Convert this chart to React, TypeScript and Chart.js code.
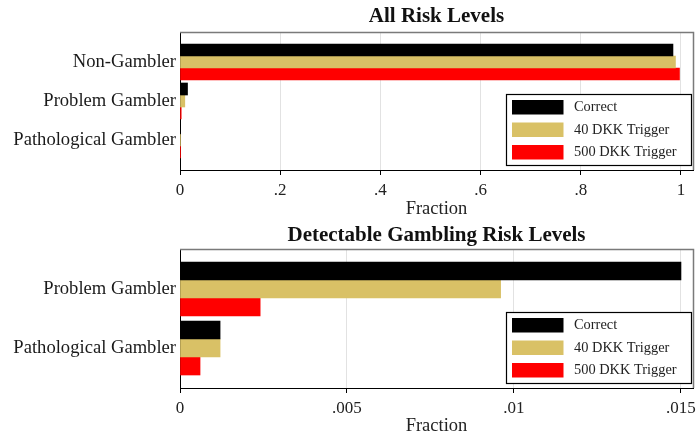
import React, { useEffect, useRef } from 'react';
import { Chart, registerables } from 'chart.js';

Chart.register(...registerables);

const FONT = '"Liberation Serif", "DejaVu Serif", serif';

const SERIES_LABELS = ['Correct', '40 DKK Trigger', '500 DKK Trigger'];
const SERIES_COLORS = ['#000000', '#d9c166', '#ff0000'];
const X_TITLE = 'Fraction';

const ALL_TITLE = 'All Risk Levels';
const ALL_CATEGORIES = ['Non-Gambler', 'Problem Gambler', 'Pathological Gambler'];
const ALL_CORRECT = [0.984, 0.015, 0.0012];
const ALL_DKK40 = [0.989, 0.0096, 0.0012];
const ALL_DKK500 = [0.997, 0.0024, 0.0006];
const ALL_TICKS = [0, 0.2, 0.4, 0.6, 0.8, 1];
const ALL_TICK_LABELS = ['0', '.2', '.4', '.6', '.8', '1'];
const ALL_MAX = 1.024;

const DET_TITLE = 'Detectable Gambling Risk Levels';
const DET_CATEGORIES = ['Problem Gambler', 'Pathological Gambler'];
const DET_CORRECT = [0.015, 0.0012];
const DET_DKK40 = [0.0096, 0.0012];
const DET_DKK500 = [0.0024, 0.0006];
const DET_TICKS = [0, 0.005, 0.01, 0.015];
const DET_TICK_LABELS = ['0', '.005', '.01', '.015'];
const DET_MAX = 0.01536;

type Spec = {
  title: string;
  categories: string[];
  series: number[][];
  ticks: number[];
  tickLabels: string[];
  max: number;
  barThickness: number;
  pad: number;
  plotTop: number;
  axisHeight: number;
  titleY: number;
  xTitlePad: number;
};

function buildConfig(spec: Spec): any {
  const datasets = spec.series.map((vals, i) => ({
    label: SERIES_LABELS[i],
    data: vals.map((v, j) => ({ x: v, y: j })),
    backgroundColor: SERIES_COLORS[i],
    borderWidth: 0,
    barThickness: spec.barThickness,
  }));

  const chartPlugins = [
    {
      id: 'plotTitle',
      afterDraw(chart: any) {
        const { ctx, chartArea: a } = chart;
        ctx.save();
        ctx.font = `bold 21px ${FONT}`;
        ctx.fillStyle = '#111';
        ctx.textAlign = 'center';
        ctx.textBaseline = 'middle';
        ctx.fillText(spec.title, (a.left + a.right) / 2, spec.titleY);
        ctx.restore();
      },
    },
    {
      id: 'frame',
      afterDatasetsDraw(chart: any) {
        const { ctx, chartArea: a } = chart;
        ctx.save();
        ctx.strokeStyle = '#7a7a7a';
        ctx.lineWidth = 1.5;
        ctx.beginPath();
        ctx.moveTo(a.left, a.top + 0.5);
        ctx.lineTo(a.right + 0.5, a.top + 0.5);
        ctx.lineTo(a.right + 0.5, a.bottom);
        ctx.stroke();
        ctx.restore();
      },
    },
    {
      id: 'boxLegend',
      afterDraw(chart: any) {
        const { ctx, chartArea: a } = chart;
        const w = 185;
        const h = 71;
        const x0 = Math.round(a.right - 2.5 - w);
        const y0 = Math.round(a.bottom - 5 - h);
        ctx.save();
        ctx.fillStyle = '#ffffff';
        ctx.fillRect(x0, y0, w, h);
        ctx.strokeStyle = '#000';
        ctx.lineWidth = 1.2;
        ctx.strokeRect(x0 + 0.5, y0 + 0.5, w, h);
        chart.data.datasets.forEach((ds: any, i: number) => {
          const sy = y0 + 6 + i * 22.5;
          ctx.fillStyle = ds.backgroundColor;
          ctx.fillRect(x0 + 6, sy, 51.5, 14.5);
          ctx.fillStyle = '#222';
          ctx.font = `14.4px ${FONT}`;
          ctx.textAlign = 'left';
          ctx.textBaseline = 'middle';
          ctx.fillText(ds.label, x0 + 68, sy + 7.5);
        });
        ctx.restore();
      },
    },
  ];

  return {
    type: 'bar',
    data: { datasets },
    options: {
      indexAxis: 'y',
      responsive: false,
      animation: false,
      layout: { padding: { top: spec.plotTop, right: 4, left: 0, bottom: 0 } },
      plugins: {
        legend: { display: false },
        tooltip: { enabled: false },
        title: { display: false },
      },
      scales: {
        x: {
          type: 'linear',
          min: 0,
          max: spec.max,
          afterBuildTicks: (axis: any) => {
            axis.ticks = spec.ticks.map((v) => ({ value: v }));
          },
          afterFit: (axis: any) => {
            axis.height = spec.axisHeight;
            axis.paddingLeft = 0;
            axis.paddingRight = 0;
          },
          ticks: {
            callback: (_v: any, i: number) => spec.tickLabels[i],
            font: { family: FONT, size: 17 },
            color: '#222',
            padding: 5,
            maxRotation: 0,
            autoSkip: false,
          },
          grid: {
            color: '#e2e2e2',
            lineWidth: 1,
            drawTicks: true,
            tickLength: 5,
            tickColor: '#000',
          },
          border: { display: true, color: '#000', width: 1 },
          title: {
            display: true,
            text: X_TITLE,
            font: { family: FONT, size: 18.5, lineHeight: 1 },
            color: '#222',
            padding: { top: 0, bottom: spec.xTitlePad },
          },
        },
        y: {
          type: 'linear',
          reverse: true,
          offset: false,
          min: -spec.pad,
          max: spec.categories.length - 1 + spec.pad,
          afterBuildTicks: (axis: any) => {
            axis.ticks = spec.categories.map((_c, i) => ({ value: i }));
          },
          afterFit: (axis: any) => {
            axis.width = 180;
            axis.paddingTop = 0;
            axis.paddingBottom = 0;
          },
          ticks: {
            callback: (_v: any, i: number) => spec.categories[i],
            font: { family: FONT, size: 18.6 },
            color: '#1a1a1a',
            padding: 4,
            autoSkip: false,
          },
          grid: { display: false, drawTicks: false },
          border: { display: true, color: '#000', width: 1 },
        },
      },
    },
    plugins: chartPlugins,
  };
}

const TOP_SPEC: Spec = {
  title: ALL_TITLE,
  categories: ALL_CATEGORIES,
  series: [ALL_CORRECT, ALL_DKK40, ALL_DKK500],
  ticks: ALL_TICKS,
  tickLabels: ALL_TICK_LABELS,
  max: ALL_MAX,
  barThickness: 12,
  pad: 0.769,
  plotTop: 32,
  axisHeight: 49,
  titleY: 17,
  xTitlePad: 1,
};

const BOTTOM_SPEC: Spec = {
  title: DET_TITLE,
  categories: DET_CATEGORIES,
  series: [DET_CORRECT, DET_DKK40, DET_DKK500],
  ticks: DET_TICKS,
  tickLabels: DET_TICK_LABELS,
  max: DET_MAX,
  barThickness: 18,
  pad: 0.678,
  plotTop: 30,
  axisHeight: 47,
  titleY: 17,
  xTitlePad: 0,
};

function BarChart({ spec, height }: { spec: Spec; height: number }) {
  const ref = useRef<HTMLCanvasElement | null>(null);
  useEffect(() => {
    if (!ref.current) return;
    const chart = new Chart(ref.current, buildConfig(spec));
    return () => chart.destroy();
  }, [spec]);
  return (
    <canvas
      ref={ref}
      width={697}
      height={height}
      style={{ display: 'block', width: 697, height }}
    />
  );
}

export default function App() {
  useEffect(() => {
    document.body.style.margin = '0';
  }, []);
  return (
    <div
      style={{
        position: 'absolute',
        left: 0,
        top: 0,
        width: 697,
        height: 435,
        background: '#ffffff',
      }}
    >
      <BarChart spec={TOP_SPEC} height={219} />
      <BarChart spec={BOTTOM_SPEC} height={216} />
    </div>
  );
}
